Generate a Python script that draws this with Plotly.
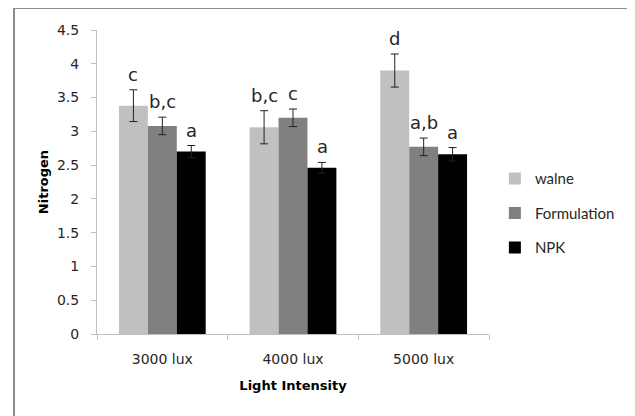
import plotly.graph_objects as go

categories = ["3000 lux", "4000 lux", "5000 lux"]
series_names = ["walne", "Formulation", "NPK"]
walne = [3.38, 3.06, 3.90]
formulation = [3.08, 3.20, 2.77]
npk = [2.70, 2.46, 2.66]
walne_err = [0.235, 0.245, 0.245]
formulation_err = [0.13, 0.13, 0.13]
npk_err = [0.09, 0.08, 0.10]
letters = [["c", "b,c", "d"], ["b,c", "c", "a,b"], ["a", "a", "a"]]
colors = ["#c0c0c0", "#808080", "#000000"]

values = [walne, formulation, npk]
errors = [walne_err, formulation_err, npk_err]

fig = go.Figure()
for i, name in enumerate(series_names):
    fig.add_trace(go.Bar(
        x=categories, y=values[i], name=name, legendgroup=name,
        marker=dict(color=colors[i], line=dict(width=0)),
        error_y=dict(type="data", array=errors[i], color="#222222", thickness=1, width=4),
    ))

tick_font = dict(family="DejaVu Sans", size=14, color="#262626")
bar_px = 29
annotations = []
for i in range(3):
    for j, cat in enumerate(categories):
        annotations.append(dict(
            x=cat, y=values[i][j] + errors[i][j], xref="x", yref="y",
            text=letters[i][j], showarrow=False, xanchor="center", yanchor="bottom",
            xshift=(i - 1) * bar_px, yshift=3,
            font=dict(family="DejaVu Sans", size=18, color="#262626"),
        ))

fig.update_layout(
    width=635, height=416,
    margin=dict(l=89, r=154, t=22, b=90, pad=0),
    paper_bgcolor="white", plot_bgcolor="white",
    barmode="group", bargap=0.336, bargroupgap=0,
    showlegend=True,
    legend=dict(x=1.015, y=0.565, xanchor="left", yanchor="top",
                font=dict(family="Lato", size=15, color="#262626"),
                tracegroupgap=12, itemwidth=30, bgcolor="rgba(0,0,0,0)"),
    annotations=annotations,
    shapes=[dict(type="rect", xref="paper", yref="paper",
                 x0=-0.2117, x1=1.3648, y0=-0.30, y1=1.0725,
                 line=dict(color="#8c8c8c", width=2), layer="below")],
    xaxis=dict(
        title=dict(text="<b>Light Intensity</b>", font=dict(family="DejaVu Sans", size=13, color="#000"), standoff=15),
        showline=True, linecolor="#bfbfbf", linewidth=1,
        ticks="outside", tickson="boundaries", ticklen=5, tickcolor="#bfbfbf",
        ticklabelstandoff=12,
        tickfont=tick_font, showgrid=False,
    ),
    yaxis=dict(
        title=dict(text="<b>Nitrogen</b>", font=dict(family="DejaVu Sans", size=13, color="#000"), standoff=5),
        range=[0, 4.5], dtick=0.5, tick0=0,
        showline=True, linecolor="#bfbfbf", linewidth=1,
        ticks="outside", ticklen=5, tickcolor="#bfbfbf",
        ticklabelstandoff=9,
        tickfont=tick_font, showgrid=False, zeroline=False,
    ),
)

fig.write_html("out.html")
